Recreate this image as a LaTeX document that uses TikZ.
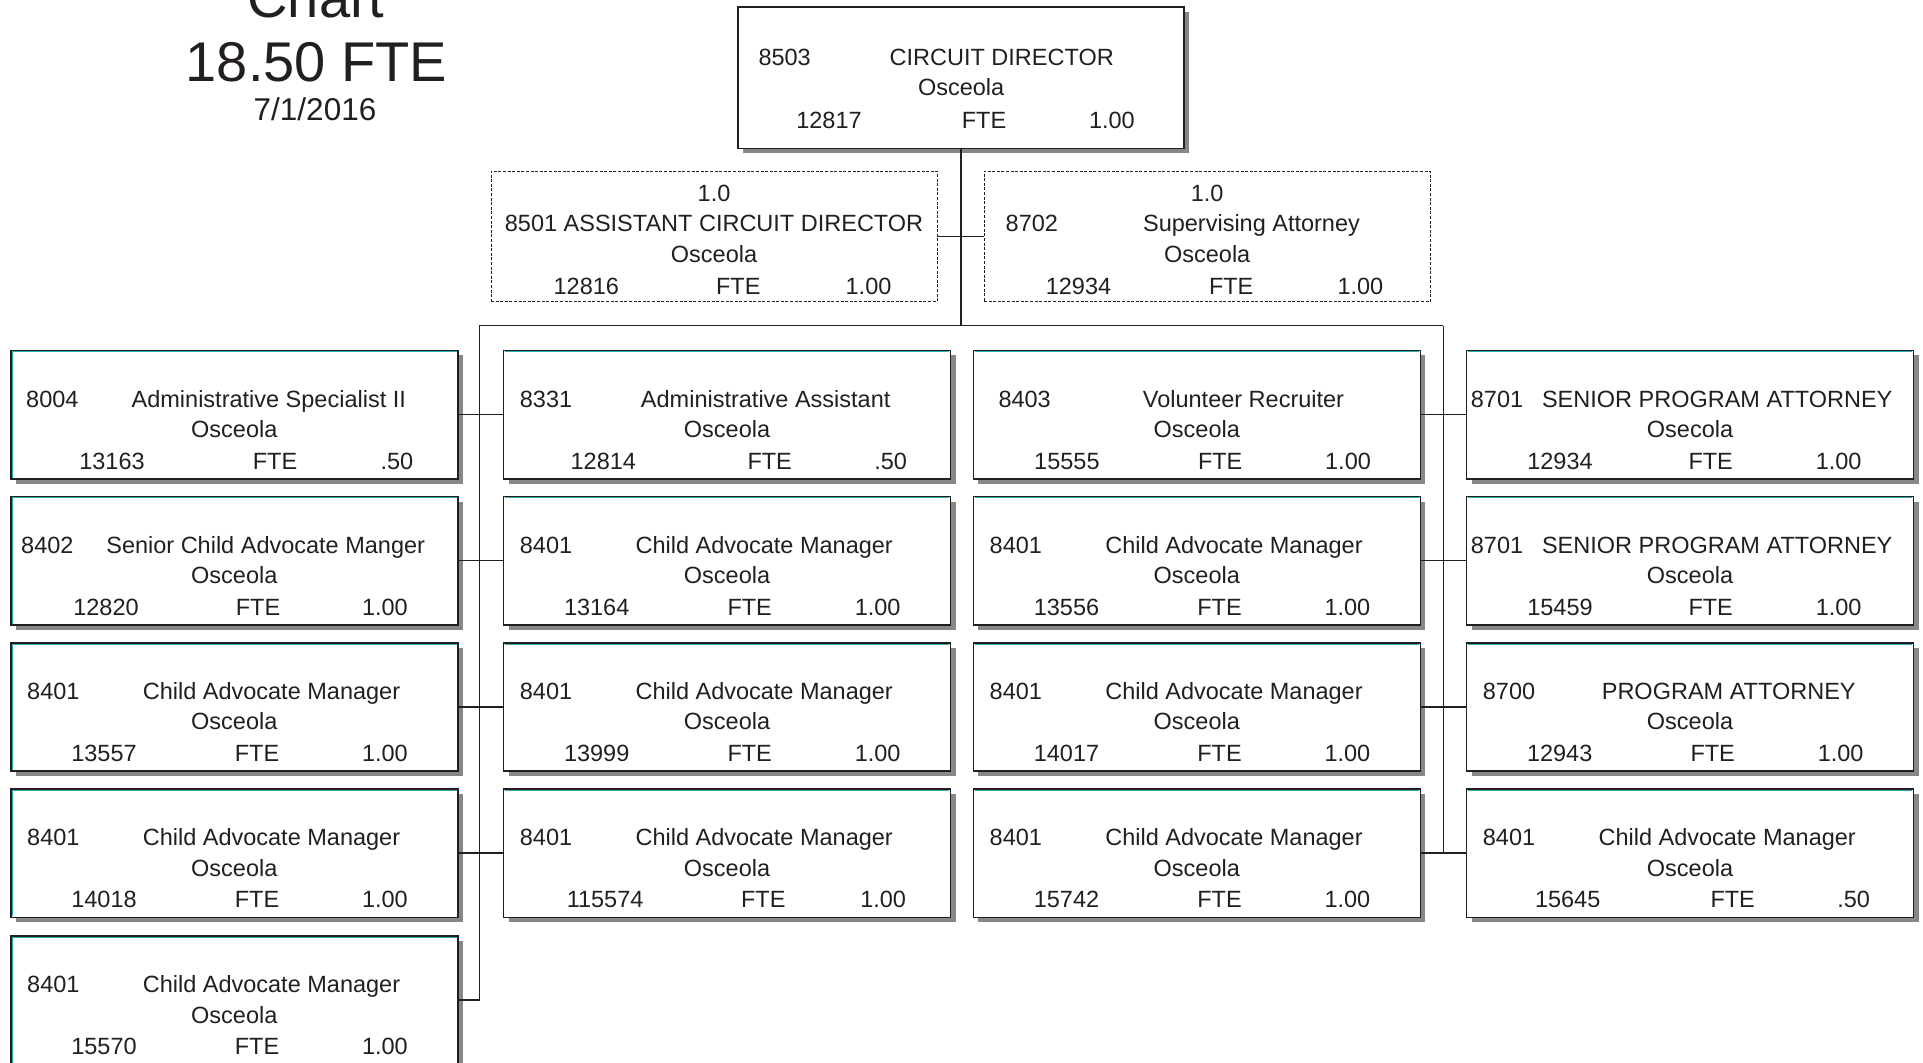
\documentclass[tikz,border=0pt]{standalone}
\usepackage{fontspec}
\setmainfont{Liberation Sans}
\usetikzlibrary{calc,shadows}

\definecolor{ink}{RGB}{35,31,32}
\definecolor{shade}{RGB}{135,135,135}
\definecolor{accent}{RGB}{40,176,176}

% baselines of the three text lines, measured down from the top of a card
\def\lnA{57.5}\def\lnB{88}\def\lnC{119.5}

% number at the left and title centred at a given offset
\newcommand\headline[5]{%
  \node[txt,anchor=base west] (#1-num) at ($(#1.north west)+(#2,\lnA)$) {#3};
  \node[txt,anchor=base] (#1-title) at ($(#1.north west)+(#4,\lnA)$) {#5};}
% centred location line
\newcommand\siteline[2]{%
  \node[txt,anchor=base] (#1-site) at ($(#1.north)+(0,\lnB)$) {#2};}
% position id, FTE and the FTE value
\newcommand\fteline[6]{%
  \node[txt,anchor=base] (#1-id) at ($(#1.north west)+(#2,\lnC)$) {#3};
  \node[txt,anchor=base] (#1-fte) at ($(#1.north west)+(#4,\lnC)$) {FTE};
  \node[txt,anchor=base east] (#1-val) at ($(#1.north west)+(#5,\lnC)$) {#6};}
% thin coloured rule inside the top edge (and optionally the left edge)
\newcommand\topaccent[1]{%
  \draw[accentline] ([xshift=-2pt,yshift=-2.1pt]#1.north east) -- ([xshift=2.1pt,yshift=-2.1pt]#1.north west);}
\newcommand\leftaccent[1]{%
  \draw[accentline] ([xshift=2.1pt,yshift=-2.1pt]#1.north west) -- ([xshift=2.1pt,yshift=2pt]#1.south west);}

% standard cards
\newcommand\camcard[4]{% name, x, y, id
  \node[card] (#1) at (#2,#3) {};
  \topaccent{#1}
  \headline{#1}{17}{8401}{261.5}{Child Advocate Manager}
  \siteline{#1}{Osceola}
  \fteline{#1}{94}{#4}{247}{398}{1.00}}

\tikzset{
  card/.style={rectangle, draw=ink, line width=1.6pt, fill=white, inner sep=0pt,
    anchor=north west, minimum width=447pt, minimum height=128.5pt,
    general shadow={fill=shade, shadow xshift=5pt, shadow yshift=-5pt}},
  dashcard/.style={rectangle, draw=ink, line width=0.9pt, dash pattern=on 3pt off 1.6pt,
    fill=white, inner sep=0pt, anchor=north west, minimum width=446pt, minimum height=130.3pt},
  txt/.style={inner sep=0pt, text=ink, font=\fontsize{23.5}{28}\selectfont},
  headtxt/.style={inner sep=0pt, text=ink, anchor=base, font=\fontsize{56}{60}\selectfont},
  datetxt/.style={inner sep=0pt, text=ink, anchor=base, font=\fontsize{31.5}{34}\selectfont},
  link/.style={draw=ink, line width=1.4pt},
  accentline/.style={draw=accent, line width=1pt},
}

\begin{document}
\begin{tikzpicture}[x=1pt, y=-1pt]
\useasboundingbox (0,0) rectangle (1923,1063);
\clip (0,0) rectangle (1923,1063);
\fill[white] (0,0) rectangle (1923,1063);

% heading
\node[headtxt] (head1) at (316,17) {Chart};
\node[headtxt] (head2) at (316.5,81.7) {18.50 FTE};
\node[datetxt] (head3) at (315,120.7) {7/1/2016};

% director
\def\lnA{59}\def\lnB{89}\def\lnC{122}
\node[card, minimum width=446pt, minimum height=141.5pt] (cd) at (737.3,6) {};
\headline{cd}{21}{8503}{264.4}{CIRCUIT DIRECTOR}
\siteline{cd}{Osceola}
\fteline{cd}{91.7}{12817}{246.7}{397.7}{1.00}

% dotted-line positions
\def\lnA{61}\def\lnB{92}\def\lnC{123.5}
\node[dashcard] (acd) at (490.6,170.7) {};
\node[txt,anchor=base] (acd-pct) at ($(acd.north)+(0,30.5)$) {1.0};
\node[txt,anchor=base] (acd-title) at ($(acd.north)+(0,\lnA)$) {8501 ASSISTANT CIRCUIT DIRECTOR};
\siteline{acd}{Osceola}
\fteline{acd}{95.7}{12816}{247.7}{401}{1.00}

\node[dashcard, minimum width=446.5pt] (sup) at (983.5,170.7) {};
\node[txt,anchor=base] (sup-pct) at ($(sup.north)+(0,30.5)$) {1.0};
\headline{sup}{22}{8702}{268}{Supervising Attorney}
\siteline{sup}{Osceola}
\fteline{sup}{95}{12934}{247.7}{400}{1.00}

\def\lnA{57.5}\def\lnB{88}\def\lnC{119.5}

% first column
\node[card] (a1) at (10,349.5) {};
\topaccent{a1}
\headline{a1}{16}{8004}{258.8}{Administrative Specialist II}
\siteline{a1}{Osceola}
\fteline{a1}{102}{13163}{265}{403.5}{.50}

\node[card] (a2) at (10,495.7) {};
\topaccent{a2}
\headline{a2}{11}{8402}{255.7}{Senior Child Advocate Manger}
\siteline{a2}{Osceola}
\fteline{a2}{96}{12820}{248}{398}{1.00}

\camcard{a3}{10}{641.9}{13557}
\camcard{a4}{10}{788.1}{14018}
\camcard{a5}{10}{935}{15570}
\foreach \n in {1,...,5}{\leftaccent{a\n}}

% second column
\node[card] (b1) at (502.7,349.5) {};
\topaccent{b1}
\headline{b1}{17}{8331}{263}{Administrative Assistant}
\siteline{b1}{Osceola}
\fteline{b1}{100.6}{12814}{267}{404.5}{.50}

\camcard{b2}{502.7}{495.7}{13164}
\camcard{b3}{502.7}{641.9}{13999}

\node[card] (b4) at (502.7,788.1) {};
\topaccent{b4}
\headline{b4}{17}{8401}{261.5}{Child Advocate Manager}
\siteline{b4}{Osceola}
\fteline{b4}{102.4}{115574}{260.6}{403.5}{1.00}

% third column
\node[card] (c1) at (972.5,349.5) {};
\topaccent{c1}
\headline{c1}{25.8}{8403}{271}{Volunteer Recruiter}
\siteline{c1}{Osceola}
\fteline{c1}{94.4}{15555}{247.7}{398.6}{1.00}

\camcard{c2}{972.5}{495.7}{13556}
\camcard{c3}{972.5}{641.9}{14017}
\camcard{c4}{972.5}{788.1}{15742}

% fourth column
\node[card] (d1) at (1465.7,349.5) {};
\topaccent{d1}
\headline{d1}{5}{8701}{251.5}{SENIOR PROGRAM ATTORNEY}
\siteline{d1}{Osecola}
\fteline{d1}{94.3}{12934}{245}{396}{1.00}

\node[card] (d2) at (1465.7,495.7) {};
\topaccent{d2}
\headline{d2}{5}{8701}{251.5}{SENIOR PROGRAM ATTORNEY}
\siteline{d2}{Osceola}
\fteline{d2}{94.3}{15459}{245}{396}{1.00}

\node[card] (d3) at (1465.7,641.9) {};
\topaccent{d3}
\headline{d3}{17}{8700}{263}{PROGRAM ATTORNEY}
\siteline{d3}{Osceola}
\fteline{d3}{94}{12943}{247}{398}{1.00}

\node[card] (d4) at (1465.7,788.1) {};
\topaccent{d4}
\headline{d4}{17}{8401}{261.5}{Child Advocate Manager}
\siteline{d4}{Osceola}
\fteline{d4}{102}{15645}{267}{404.5}{.50}

% connectors
\coordinate (busL) at (479.3,325.5);
\coordinate (busR) at (1443.3,325.5);
\draw[link] (cd.south) -- (cd.south |- busL);
\draw[link] (acd.east) -- (sup.west);
\draw[link] (busL) -- (busR);
\draw[link] (busL) -- (busL |- a5.east) -- (a5.east);
\draw[link] (busR) -- (busR |- c4.east);
\foreach \n in {1,...,4}{
  \draw[link] (a\n.east) -- (b\n.west);
  \draw[link] (c\n.east) -- (d\n.west);
}
\end{tikzpicture}
\end{document}
